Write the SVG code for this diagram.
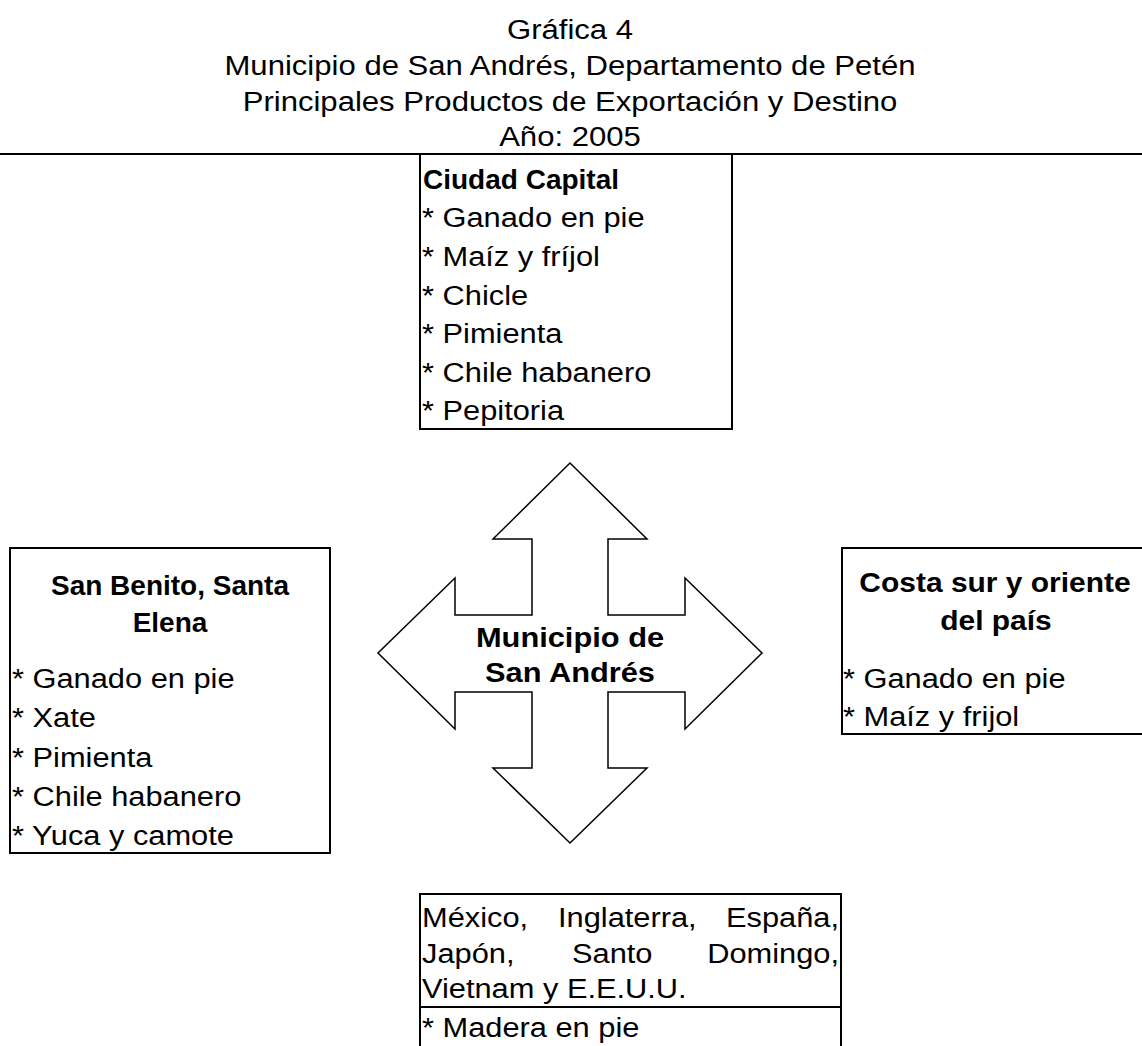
<svg xmlns="http://www.w3.org/2000/svg" width="1142" height="1046" viewBox="0 0 1142 1046">
<style>
text{font-family:"Liberation Sans",Arial,sans-serif;font-size:28px;fill:#000}
.b{font-weight:bold}
.m{text-anchor:middle}
.e{text-anchor:end}
.box{fill:#fff;stroke:#000;stroke-width:2}
.ln{stroke:#000;stroke-width:2}
</style>
<rect width="1142" height="1046" fill="#fff"/>
<g id="title">
<text class="m" transform="translate(570 39) scale(1.11 1)">Gráfica 4</text>
<text class="m" transform="translate(570 75) scale(1.11 1)">Municipio de San Andrés, Departamento de Petén</text>
<text class="m" transform="translate(570 111) scale(1.11 1)">Principales Productos de Exportación y Destino</text>
<text class="m" transform="translate(570 146) scale(1.11 1)">Año: 2005</text>
<line class="ln" x1="0" y1="154" x2="1142" y2="154"/>
</g>
<g id="connectors"></g>
<g id="municipio">
<polygon points="570,463 647,539 608,539 608,615 685,615 685,578 762,653 685,729 685,692 608,692 608,768 647,768 570,843 493,768 532,768 532,692 455,692 455,729 378,653 455,578 455,615 532,615 532,539 493,539" fill="#fff" stroke="#000" stroke-width="1.5" stroke-linejoin="miter"/>
<text class="b m" transform="translate(570 647) scale(1.1 1)">Municipio de</text>
<text class="b m" transform="translate(570 682) scale(1.1 1)">San Andrés</text>
</g>
<g id="ciudad-capital">
<rect class="box" x="420" y="154" width="312" height="275"/>
<text class="b" x="423" y="189">Ciudad Capital</text>
<text transform="translate(422 227) scale(1.1 1)">* Ganado en pie</text>
<text transform="translate(422 266) scale(1.1 1)">* Maíz y fríjol</text>
<text transform="translate(422 305) scale(1.1 1)">* Chicle</text>
<text transform="translate(422 343) scale(1.1 1)">* Pimienta</text>
<text transform="translate(422 382) scale(1.1 1)">* Chile habanero</text>
<text transform="translate(422 420) scale(1.1 1)">* Pepitoria</text>
</g>
<g id="san-benito">
<rect class="box" x="10" y="548" width="320" height="305"/>
<text class="b m" x="170" y="595">San Benito, Santa</text>
<text class="b m" x="170" y="632">Elena</text>
<text transform="translate(12 688) scale(1.1 1)">* Ganado en pie</text>
<text transform="translate(12 727) scale(1.1 1)">* Xate</text>
<text transform="translate(12 767) scale(1.1 1)">* Pimienta</text>
<text transform="translate(12 806) scale(1.1 1)">* Chile habanero</text>
<text transform="translate(12 845) scale(1.1 1)">* Yuca y camote</text>
</g>
<g id="costa-sur">
<rect class="box" x="842" y="548" width="320" height="186"/>
<text class="b m" transform="translate(995 592) scale(1.07 1)">Costa sur y oriente</text>
<text class="b m" transform="translate(996 630) scale(1.07 1)">del país</text>
<text transform="translate(843 688) scale(1.1 1)">* Ganado en pie</text>
<text transform="translate(843 726) scale(1.1 1)">* Maíz y frijol</text>
</g>
<g id="exterior">
<rect class="box" x="420" y="894" width="421" height="170"/>
<line class="ln" x1="420" y1="1007" x2="841" y2="1007"/>
<text transform="translate(422 927) scale(1.1 1)">México,</text>
<text transform="translate(558 927) scale(1.1 1)">Inglaterra,</text>
<text class="e" transform="translate(839 927) scale(1.1 1)">España,</text>
<text transform="translate(422 963) scale(1.1 1)">Japón,</text>
<text transform="translate(572 963) scale(1.1 1)">Santo</text>
<text class="e" transform="translate(839 963) scale(1.1 1)">Domingo,</text>
<text transform="translate(422 998) scale(1.1 1)">Vietnam y E.E.U.U.</text>
<text transform="translate(422 1037) scale(1.1 1)">* Madera en pie</text>
</g>
</svg>
